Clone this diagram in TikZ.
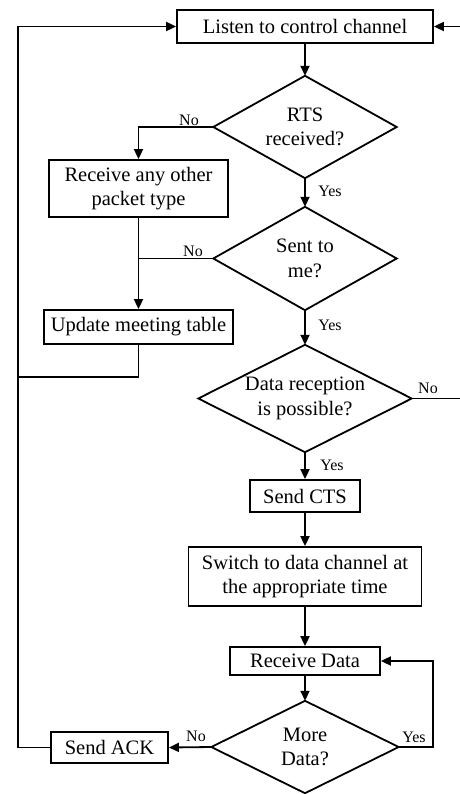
\documentclass[tikz,border=0pt]{standalone}
\usepackage{fontspec}
\setmainfont{Liberation Serif}
\usetikzlibrary{arrows.meta}
\begin{document}
\begin{tikzpicture}[x=1pt,y=-1pt,
  every node/.style={font=\fontsize{20.5}{24.5}\selectfont},
  box/.style={draw,line width=1.8pt,inner sep=0pt,align=center},
  dec/.style={inner sep=0pt,align=center},
  lbl/.style={font=\fontsize{16}{18}\selectfont,inner sep=0pt},
  conn/.style={line width=1.8pt},
  arr/.style={conn,-{Triangle[length=10pt,width=9pt]}},
  dshape/.style={line width=1.8pt,line join=miter}]
\useasboundingbox (0,0) rectangle (459,794);
% nodes
\node[box,minimum width=256pt,minimum height=33pt] (listen) at (305,26.5) {Listen to control channel};
\node[dec,minimum width=183pt,minimum height=102pt] (rts) at (305,127) {RTS\\received?};
\node[box,minimum width=179pt,minimum height=57pt] (other) at (138.5,188.5) {Receive any other\\packet type};
\node[dec,minimum width=183pt,minimum height=103pt] (sent) at (305,258.5) {Sent to\\me?};
\node[box,minimum width=189pt,minimum height=34pt] (update) at (138.5,327) {Update meeting table};
\node[dec,minimum width=213pt,minimum height=107pt] (possible) at (305,398.5) {Data reception\\is possible?};
\node[box,minimum width=110pt,minimum height=32pt] (cts) at (305,496) {Send CTS};
\node[box,minimum width=233pt,minimum height=59pt] (switch) at (305,576.5) {Switch to data channel at\\the appropriate time};
\node[box,minimum width=150pt,minimum height=28pt] (recv) at (305,661) {Receive Data};
\node[dec,minimum width=187pt,minimum height=92pt] (more) at (305,747) {More\\Data?};
\node[box,minimum width=117pt,minimum height=31pt] (ack) at (109.5,747.5) {Send ACK};
% diamond outlines
\foreach \d in {rts,sent,possible,more}
  \draw[dshape] (\d.north) -- (\d.east) -- (\d.south) -- (\d.west) -- cycle;
% labels
\node[lbl] (l1) at (189,120) {No};
\node[lbl] (l2) at (330,191) {Yes};
\node[lbl] (l3) at (193,251) {No};
\node[lbl] (l4) at (330,325) {Yes};
\node[lbl] (l5) at (428,388) {No};
\node[lbl] (l6) at (332,465) {Yes};
\node[lbl] (l7) at (196,736) {No};
\node[lbl] (l8) at (414,737) {Yes};
% helper coordinates
\coordinate (j) at (other.south |- sent.west);
\coordinate (u) at (138.5,377);
\coordinate (lx) at (18,377);
\coordinate (rx) at (470,398.5);
\coordinate (yx) at (433,747);
% connectors
\draw[arr] (listen.south) -- (rts.north);
\draw[arr] (rts.west) -| (other.north);
\draw[arr] (rts.south) -- (sent.north);
\draw[conn] (sent.west) -- (j);
\draw[arr] (other.south) -- (update.north);
\draw[arr] (sent.south) -- (possible.north);
\draw[conn] (update.south) -- (u) -- (lx);
\draw[arr] (possible.east) -- (rx) |- (listen.east);
\draw[arr] (possible.south) -- (cts.north);
\draw[arr] (cts.south) -- (switch.north);
\draw[arr] (switch.south) -- (recv.north);
\draw[arr] (recv.south) -- (more.north);
\draw[arr] (more.west) -- (ack.east);
\draw[arr] (more.east) -- (yx) |- (recv.east);
\draw[arr] (ack.west) -| (lx) |- (listen.west);
\end{tikzpicture}
\end{document}
